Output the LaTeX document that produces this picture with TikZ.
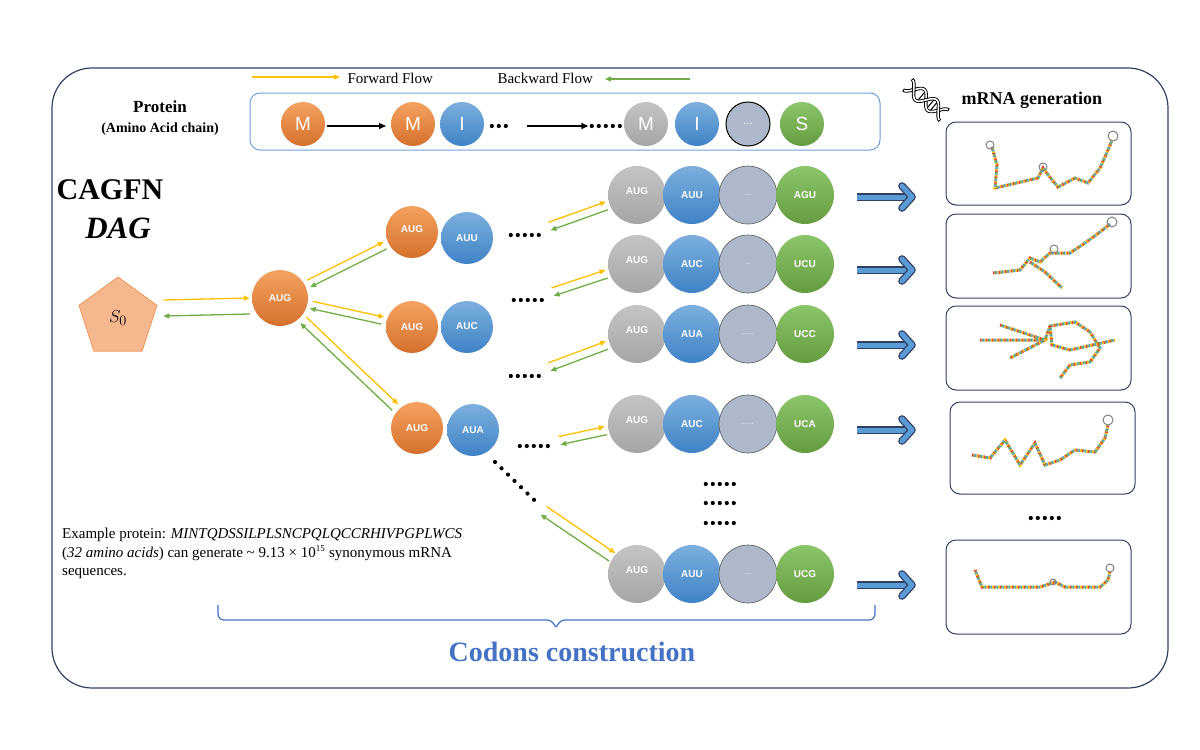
\documentclass[tikz,border=0pt]{standalone}
\usepackage{fontspec}
\setmainfont{Liberation Serif}
\newfontfamily\sansf{Liberation Sans}
\usetikzlibrary{shapes.geometric,arrows.meta,decorations.pathreplacing,calc}
\definecolor{orng}{HTML}{ED7D31}
\definecolor{orngL}{HTML}{F4A261}
\definecolor{blu}{HTML}{5B9BD5}
\definecolor{bluD}{HTML}{3F83C6}
\definecolor{gry}{HTML}{A5A5A5}
\definecolor{gryL}{HTML}{C4C4C4}
\definecolor{lbl}{HTML}{ADB9CA}
\definecolor{grn}{HTML}{70AD47}
\definecolor{grnL}{HTML}{8CC66A}
\definecolor{ylw}{HTML}{FFC000}
\definecolor{frame}{HTML}{2F4063}
\definecolor{boxb}{HTML}{6FA0D8}
\definecolor{titb}{HTML}{4472C4}
\newcommand\dotrow[4]{% name, x, y, count
  \node[inner sep=0pt,minimum width={#4*7pt},minimum height=6pt] (#1) at (#2,#3) {};
  \foreach \i in {1,...,#4}{\fill ($(#1.west)+({\i*7-3.5},0)$) circle (2.1pt);}}
\begin{document}
\begin{tikzpicture}[x=1pt,y=-1pt,
  ball/.style={circle,minimum size=#1,inner sep=0pt,font=\sansf\fontsize{10}{10}\selectfont\bfseries,text=white},
  ob/.style={ball=#1,shading=axis,top color=orngL,bottom color=orng!90!black},
  bb/.style={ball=#1,shading=axis,top color=blu!80,bottom color=bluD},
  gb/.style={ball=#1,shading=axis,top color=gryL,bottom color=gry},
  lb/.style={ball=#1,fill=lbl,draw=gray!70!black,line width=0.6pt},
  nb/.style={ball=#1,shading=axis,top color=grnL,bottom color=grn!90!black},
  fwd/.style={draw=ylw,line width=1.3pt,-{Triangle[length=6pt,width=5pt]}},
  bwd/.style={draw=grn,line width=1.3pt,-{Triangle[length=6pt,width=5pt]}},
  rbox/.style={draw=frame,line width=1pt,rounded corners=10pt},
  big/.style={draw=frame,line width=1.3pt,double=blu,double distance=5pt},
  rna/.style={line width=3pt,line cap=butt,dash pattern=on 1.5pt off 4.5pt}
]
\useasboundingbox (0,0) rectangle (1200,750);
\draw[frame,line width=1.2pt,rounded corners=40pt] (52,68) rectangle (1168,688);
% legend
\coordinate (lf1) at (252,77); \coordinate (lf2) at (340,77);
\draw[fwd] (lf1) -- (lf2);
\node[anchor=west,font=\fontsize{15}{15}\selectfont] (ff) at (344,78) {Forward Flow};
\node[anchor=west,font=\fontsize{15}{15}\selectfont] (bf) at (494,78) {Backward Flow};
\coordinate (lb1) at (690,79); \coordinate (lb2) at (605,79);
\draw[bwd] (lb1) -- (lb2);
% protein bar
\draw[boxb,line width=1pt,rounded corners=10pt] (250,93) rectangle (880,150);
\node[font=\bfseries\fontsize{17}{17}\selectfont] (prot) at (160,107) {Protein};
\node[font=\bfseries\fontsize{14}{14}\selectfont] (aac) at (160,129) {(Amino Acid chain)};
\tikzset{pl/.style={font=\sansf\fontsize{19}{19}\selectfont}}
\node[ob=44pt,pl] (p1) at (303,124) {M};
\node[ob=44pt,pl] (p2) at (413,124) {M};
\node[bb=44pt,pl] (p3) at (462,124) {I};
\dotrow{pd1}{499}{126}{3}
\dotrow{pd2}{606}{126}{5}
\node[gb=44pt,pl] (p4) at (646,124) {M};
\node[bb=44pt,pl] (p5) at (697,124) {I};
\node[lb=44pt,pl,draw=black,line width=1pt,font=\sansf\fontsize{11}{11}\selectfont] (p6) at (748,124) {...};
\node[nb=44pt,pl] (p7) at (802,124) {S};
\coordinate (pa) at (327,126); \coordinate (pb) at (386,126);
\draw[line width=1.3pt,-{Triangle[length=7pt,width=6pt]}] (pa) -- (pb);
\coordinate (pc) at (527,126);
\draw[line width=1.3pt,-{Triangle[length=7pt,width=6pt]}] (pc) -- (pd2.west);
% titles
\node[font=\bfseries\fontsize{30}{30}\selectfont] (cag) at (110,190) {CAGFN};
\node[font=\bfseries\itshape\fontsize{31}{31}\selectfont] (dag) at (118,228) {DAG};
% S0
\node[regular polygon,regular polygon sides=5,minimum size=82pt,inner sep=0pt,fill=orng!55!white,draw=orng!80!white,line width=0.8pt] (s0) at (118,318) {\fontsize{19}{19}\selectfont$S_0$};
\node[ob=56pt] (a1) at (280,298) {AUG};
% level2
\node[ob=52pt] (b1) at (412,232) {\raisebox{5pt}{AUG}};
\node[bb=52pt] (b1u) at (467,238) {AUU};
\node[ob=52pt] (b2) at (412,327) {AUG};
\node[bb=52pt] (b2u) at (467,327) {\raisebox{2pt}{AUC}};
\node[ob=52pt] (b3) at (417,428) {AUG};
\node[bb=52pt] (b3u) at (473,430) {AUA};
\dotrow{d1}{525}{235}{5}
\dotrow{d2}{528}{300}{5}
\dotrow{d3}{525}{376}{5}
\dotrow{d4}{534}{446}{5}
\foreach \i in {0,...,6}{\fill ({495+\i*6.5},{462+\i*6.3}) circle (2.1pt);}
\coordinate (d5) at (537,506);
% level3 rows
\foreach \n/\y/\bl/\mi/\gr in {1/195/AUU/{...}/AGU, 2/264/AUC/{...}/UCU, 3/334/AUA/{......}/UCC, 4/424/AUC/{......}/UCA, 5/574/AUU/{...}/UCG}{
  \node[gb=58pt] (r\n g) at (637,\y) {\raisebox{8pt}{AUG}};
  \node[bb=58pt] (r\n b) at (692,\y) {\bl};
  \node[lb=58pt,font=\sansf\fontsize{7}{7}\selectfont] (r\n m) at (748,\y) {\mi};
  \node[nb=58pt] (r\n n) at (805,\y) {\gr};
}
\dotrow{vd1}{720}{484}{5}
\dotrow{vd2}{720}{503}{5}
\dotrow{vd3}{720}{523}{5}
% flows
\draw[fwd] ($(s0.east)+(10,-18)$) -- ($(a1.west)+(-2,0)$);
\draw[bwd] ($(a1.west)+(-2,16)$) -- ($(s0.east)+(10,-2)$);
\newcommand\flowpair[6]{% from, to, dx, dy, shorten start, shorten end
  \draw[fwd,shorten <=#5,shorten >=#6] ($(#1)+(#3,#4)$) -- ($(#2)+(#3,#4)$);
  \draw[bwd,shorten <=#6,shorten >=#5] ($(#2)+(-#3,-#4)$) -- ($(#1)+(-#3,-#4)$);}
\flowpair{a1}{b1}{-1.5}{-3.5}{32pt}{30pt}
\flowpair{a1}{b2}{1.5}{-3.5}{32pt}{30pt}
\flowpair{a1}{b3}{3}{-3}{32pt}{30pt}
\flowpair{d1}{r1g}{-1}{-4}{26pt}{32pt}
\flowpair{d2}{r2g}{-1}{-4}{26pt}{32pt}
\flowpair{d3}{r3g}{-1}{-4}{26pt}{32pt}
\flowpair{d4}{r4g}{-1}{-4}{26pt}{32pt}
\flowpair{d5}{r5g}{3}{-4}{8pt}{30pt}
% big arrows
\foreach \y [count=\k] in {197,270,345,430,585}{
  \coordinate (ba\k) at (857,\y); \coordinate (bb\k) at (912,\y);
  \draw[big] (ba\k) -- ($(bb\k)+(-3,0)$);
  \draw[big,line cap=round,line join=round] ($(bb\k)+(-10,-11)$) -- (bb\k) -- ($(bb\k)+(-10,11)$);
}
% right boxes
\draw[rbox] (946,122) rectangle (1131,205);
\draw[rbox] (946,214) rectangle (1131,298);
\draw[rbox] (946,306) rectangle (1131,390);
\draw[rbox] (950,402) rectangle (1135,494);
\draw[rbox] (946,540) rectangle (1131,634);
\dotrow{rd}{1045}{518}{5}
% RNA sketches
\newcommand\rnapath[1]{%
  \draw[rna,draw=red!80] #1;
  \draw[rna,draw=ylw,dash phase=1.5pt] #1;
  \draw[rna,draw=blu,dash phase=3pt] #1;
  \draw[rna,draw=grn,dash phase=4.5pt] #1;}
\rnapath{(992,147) -- (997,165) -- (995,188) -- (1038,178) -- (1043,168) -- (1052,180) -- (1058,187) -- (1075,178) -- (1088,183) -- (1100,168) -- (1108,150) -- (1112,140)}
\draw[gray,line width=1pt] (990,145) circle (4pt) (1043,167) circle (4pt) (1113,136) circle (5pt);
\rnapath{(993,273) -- (1020,270) -- (1030,258) -- (1040,262) -- (1050,253) -- (1070,253) -- (1085,243) -- (1100,232) -- (1110,224)}
\rnapath{(1030,262) -- (1045,272) -- (1062,288)}
\draw[gray,line width=1pt] (1054,249) circle (4pt) (1112,222) circle (5pt);
\rnapath{(980,340) -- (1045,340) -- (1050,326) -- (1075,322) -- (1090,332) -- (1100,348) -- (1090,362) -- (1070,365) -- (1060,378)}
\rnapath{(1050,326) -- (1052,345) -- (1070,350) -- (1115,340)}
\rnapath{(1000,325) -- (1045,340) -- (1010,358)}
\rnapath{(972,455) -- (990,458) -- (1005,440) -- (1020,465) -- (1035,443) -- (1045,465) -- (1060,460) -- (1075,450) -- (1095,452) -- (1105,438) -- (1108,425)}
\draw[gray,line width=1pt] (1108,420) circle (5pt);
\rnapath{(975,570) -- (982,587) -- (1040,587) -- (1055,582) -- (1065,587) -- (1100,587) -- (1108,580) -- (1110,572)}
\draw[gray,line width=1pt] (1110,568) circle (4pt) (1053,582) circle (3pt);
% DNA icon
\begin{scope}[shift={(926,100)},rotate=-40]
\foreach \t in {-18,-14,-6,-2,6,10,18}{\draw[line width=1pt] (\t,{7*sin(\t*11.25)}) -- (\t,{-7*sin(\t*11.25)});}
\foreach \s in {1,-1}{
\draw[line width=3.4pt,black] plot[domain=-24:24,samples=40] (\x,{\s*7*sin(\x*11.25)});
\draw[line width=1.6pt,white] plot[domain=-23:23,samples=40] (\x,{\s*7*sin(\x*11.25)});}
\end{scope}
\node[anchor=west,font=\bfseries\fontsize{18}{18}\selectfont] (mg) at (958,100) {mRNA generation};
% example text
\node[anchor=north west,align=left,font=\fontsize{15}{18.5}\selectfont,inner sep=0pt] (ex) at (62,528) {Example protein: \textit{MINTQDSSILPLSNCPQLQCCRHIVPGPLWCS}\\(\textit{32 amino acids}) can generate \textasciitilde\ 9.13 × 10\textsuperscript{\fontsize{9}{9}\selectfont 15} synonymous mRNA\\sequences.};
% brace
\coordinate (br1) at (218,605); \coordinate (br2) at (875,605);
\draw[titb,line width=1.2pt,rounded corners=6pt] (br1) -- (218,620) -- (553,620) -- (556,630) -- (559,620) -- (875,620) -- (br2);
\node[font=\bfseries\fontsize{28}{28}\selectfont,text=titb] (cc) at (572,652) {Codons construction};
\end{tikzpicture}
\end{document}
